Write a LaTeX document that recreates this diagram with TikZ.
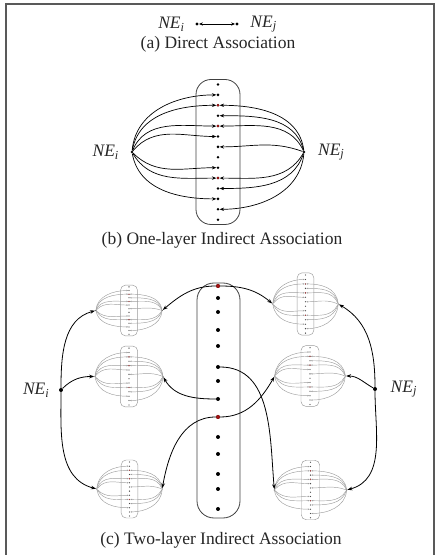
\documentclass[tikz,border=0pt]{standalone}
\usepackage{fontspec}
\setmainfont{Liberation Serif}
\usetikzlibrary{arrows.meta,positioning}
\definecolor{assocred}{RGB}{160,20,20}
\newcommand{\NEsub}[1]{\textit{NE}\textsubscript{\textit{#1}}}

\tikzset{
  frame/.style={draw=black!65, line width=1.5pt},
  bline/.style={line width=0.7pt, -{Stealth[length=4.5pt,width=3.4pt]}},
  bdot/.style={circle, fill=black, inner sep=0pt, minimum size=2.8pt},
  bred/.style={circle, fill=assocred, inner sep=0pt, minimum size=2.8pt},
  bbox/.style={draw=black!75, line width=0.8pt, rounded corners=15pt},
  cline/.style={line width=0.8pt, -{Stealth[length=5pt,width=3.6pt]}},
  cdot/.style={circle, fill=black, inner sep=0pt, minimum size=4pt},
  cred/.style={circle, fill=assocred, inner sep=0pt, minimum size=4pt},
  mini/.style={
    bline/.style={line width=0.45pt, draw=black!38, -{Stealth[length=1.8pt,width=1.5pt]}},
    bdot/.style={circle, fill=black!70, inner sep=0pt, minimum size=1.3pt},
    bred/.style={circle, fill=assocred!80, inner sep=0pt, minimum size=1.3pt},
    bbox/.style={draw=black!40, line width=0.45pt, rounded corners=5pt}},
  pics/assoc/.style={code={
    \draw[bbox] (-22,-72.5) rectangle (22,72.5);
    \foreach \k in {1,...,14}
      \node[bdot] (-d\k) at (0,{67.5-10.4*(\k-1)}) {};
    \foreach \k in {3,5,10}
      \node[bred] at (-d\k) {};
    \node[bdot] (-i) at (-86,0) {};
    \node[bdot] (-j) at (86,0) {};
    \foreach \k/\a in {2/85,3/80,5/68,6/50,9/-45,10/-60,12/-80}
      \draw[bline] (-i) to[out=\a, in=180] (-d\k.west);
    \foreach \k/\a in {3/97,4/104,5/115,7/160,10/-120,11/-108,13/-95}
      \draw[bline] (-j) to[out=\a, in=0] (-d\k.east);
  }},
}

\begin{document}
\begin{tikzpicture}[x=1pt, y=1pt, font=\fontsize{17.5}{21}\selectfont, text=black!85]
  \useasboundingbox (0,0) rectangle (439,555);
  \draw[frame] (6,0) -- (6,551) -- (434,551) -- (434,0);

  % (a) direct
  \node[cdot, minimum size=3.4pt] (a1) at (197,531) {};
  \node[cdot, minimum size=3.4pt] (a2) at (237,531) {};
  \draw[line width=0.7pt, {Stealth[length=4pt,width=3.2pt]}-{Stealth[length=4pt,width=3.2pt]}] (a1) -- (a2);
  \node[left=7pt of a1] (ai) {\NEsub{i}};
  \node[right=8pt of a2] (aj) {\NEsub{j}};
  \node (capa) at (218,511) {(a) Direct Association};

  % (b) one layer
  \pic (b) at (218,403) {assoc};
  \node[left=8pt of b-i] (bi) {\NEsub{i}};
  \node[right=9pt of b-j] (bj) {\NEsub{j}};
  \node (capb) at (222,315) {(b) One-layer Indirect Association};

  % (c) two layers
  \foreach \n/\cx/\cy/\sx/\sy in {lt/129/244.5/0.385/0.35, lm/129/178.5/0.395/0.42,
      lb/129.5/66/0.38/0.40, rt/305.5/251/0.38/0.43, rm/310/179/0.41/0.42,
      rb/310.5/65/0.42/0.41}
    \pic[mini, shift={(\cx,\cy)}, xscale=\sx, yscale=\sy] (\n) {assoc};

  \draw[bbox, rounded corners=17pt] (197,37) rectangle (240,272);
  \foreach \y [count=\k] in {269,257,243,225,209,188,174,156,138,118,101,81,66,46}
    \node[cdot] (c\k) at (218,\y) {};
  \foreach \k in {1,9}
    \node[cred] at (c\k) {};

  \node[cdot] (ci) at (61,165) {};
  \node[cdot] (cj) at (375,166) {};
  \node[left=6pt of ci] (li) {\NEsub{i}};
  \node[right=10pt of cj] (lj) {\NEsub{j}};

  \draw[cline] (ci) to[out=90, in=195] (lt-i);
  \draw[cline] (ci) to[out=45, in=180] (lm-i);
  \draw[cline] (ci) to[out=-90, in=165] (lb-i);
  \draw[cline] (cj) to[out=90, in=-30] (rt-j);
  \draw[cline] (cj) to[out=150, in=0] (rm-j);
  \draw[cline] (cj) to[out=-90, in=15] (rb-j);

  \draw[cline] (c1) to[out=180, in=40] (lt-j);
  \draw[cline] (c1) to[out=0, in=140] (rt-i);
  \draw[cline] (c8) to[out=180, in=-60] (lm-j);
  \draw[cline] (c6) to[out=0, in=95] (rb-i);
  \draw[cline] (c9) to[out=0, in=-120] (rm-i);
  \draw[cline] (c9) to[out=180, in=80] (lb-j);

  \node (capc) at (221,15) {(c) Two-layer Indirect Association};
\end{tikzpicture}
\end{document}
